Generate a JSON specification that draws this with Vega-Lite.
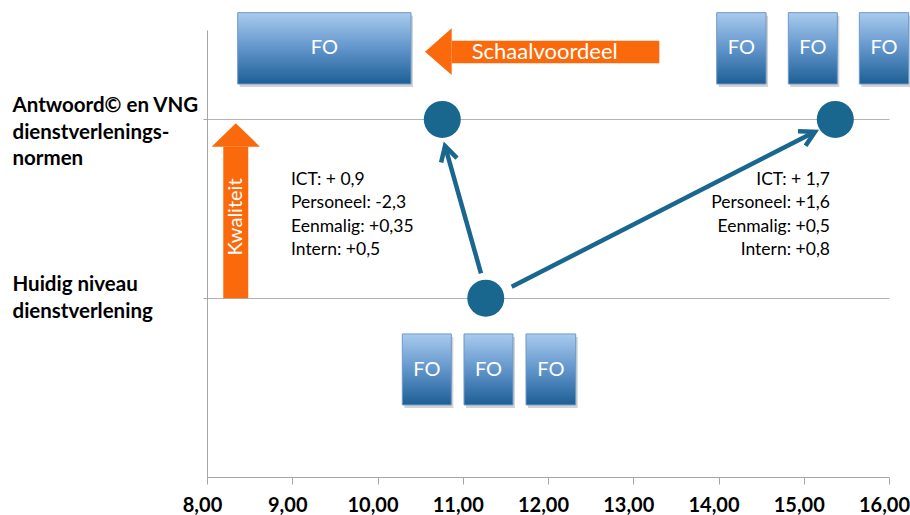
{
  "$schema": "https://vega.github.io/schema/vega-lite/v6.json",
  "width": 682,
  "height": 447,
  "autosize": {"type": "none"},
  "padding": {"left": 207, "top": 30, "right": 21, "bottom": 38},
  "background": "white",
  "config": {"view": {"stroke": null}, "font": "Lato"},
  "datasets": {
    "nodes": [
      {"x": 10.76, "y": 2},
      {"x": 11.27, "y": 1},
      {"x": 15.37, "y": 2}
    ],
    "arrows": [
      {"id": "a1", "x": 11.214, "y": 1.139, "x2": 10.792, "y2": 1.851},
      {"id": "a2", "x": 11.574, "y": 1.064, "x2": 15.132, "y2": 1.931}
    ],
    "boxes": [
      {"x": 8.36, "x2": 10.393, "y": 2.597, "y2": 2.198, "xm": 9.377, "ym": 2.398, "label": "FO"},
      {"x": 13.979, "x2": 14.558, "y": 2.597, "y2": 2.198, "xm": 14.268, "ym": 2.398, "label": "FO"},
      {"x": 14.819, "x2": 15.394, "y": 2.597, "y2": 2.198, "xm": 15.107, "ym": 2.398, "label": "FO"},
      {"x": 15.652, "x2": 16.231, "y": 2.597, "y2": 2.198, "xm": 15.941, "ym": 2.398, "label": "FO"},
      {"x": 10.291, "x2": 10.866, "y": 0.8, "y2": 0.403, "xm": 10.579, "ym": 0.601, "label": "FO"},
      {"x": 11.015, "x2": 11.589, "y": 0.8, "y2": 0.403, "xm": 11.302, "ym": 0.601, "label": "FO"},
      {"x": 11.742, "x2": 12.325, "y": 0.8, "y2": 0.403, "xm": 12.034, "ym": 0.601, "label": "FO"}
    ],
    "orangeBodies": [
      {"x": 10.87, "x2": 13.306, "y": 2.44, "y2": 2.314},
      {"x": 8.191, "x2": 8.484, "y": 1.847, "y2": 1.0}
    ],
    "leftHead": [{"x": 10.714, "y": 2.379}],
    "upHead": [{"x": 8.338, "y": 1.913}],
    "notesLeft": [
      {"x": 8.985, "y": 1.661, "t": "ICT: + 0,9"},
      {"x": 8.985, "y": 1.531, "t": "Personeel: -2,3"},
      {"x": 8.985, "y": 1.4, "t": "Eenmalig: +0,35"},
      {"x": 8.985, "y": 1.27, "t": "Intern: +0,5"}
    ],
    "notesRight": [
      {"x": 15.308, "y": 1.661, "t": "ICT: + 1,7"},
      {"x": 15.308, "y": 1.531, "t": "Personeel: +1,6"},
      {"x": 15.308, "y": 1.4, "t": "Eenmalig: +0,5"},
      {"x": 15.308, "y": 1.27, "t": "Intern: +0,8"}
    ],
    "schaal": [{"x": 11.105, "y": 2.377, "t": "Schaalvoordeel"}],
    "kwal": [{"x": 8.34, "y": 1.454, "t": "Kwaliteit"}]
  },
  "layer": [
    {
      "data": {"name": "nodes"},
      "mark": {"type": "point", "filled": true, "shape": "circle", "size": 1369, "color": "#19668f", "opacity": 1},
      "encoding": {
        "x": {
          "field": "x", "type": "quantitative",
          "scale": {"domain": [8, 16], "nice": false, "zero": false},
          "axis": {
            "title": null,
            "values": [8, 9, 10, 11, 12, 13, 14, 15, 16],
            "labelExpr": "replace(format(datum.value, '.2f'), '.', ',')",
            "labelFont": "Lato", "labelFontWeight": "bold", "labelFontSize": 20, "labelColor": "black",
            "labelPadding": 11, "labelOffset": -5, "tickSize": 7, "tickColor": "#a6a6a6", "domainColor": "#a6a6a6",
            "grid": false, "labelFlush": false, "labelOverlap": false
          }
        },
        "y": {
          "field": "y", "type": "quantitative",
          "scale": {"domain": [0, 2.5], "nice": false, "zero": false},
          "axis": {
            "title": null,
            "values": [1, 2],
            "grid": true, "gridColor": "#b3b3b3",
            "domainColor": "#a6a6a6", "tickColor": "#a6a6a6", "tickSize": 4,
            "labelAlign": "left", "labelBaseline": "top", "labelOffset": -23.5, "labelPadding": 191,
            "labelLimit": 400, "labelFont": "Lato", "labelFontWeight": "bold", "labelFontSize": 20.5,
            "labelLineHeight": 26.5, "labelColor": "black", "labelOverlap": false,
            "labelExpr": "datum.value == 2 ? ['Antwoord© en VNG', 'dienstverlenings-', 'normen'] : ['Huidig niveau', 'dienstverlening']"
          }
        }
      }
    },
    {
      "data": {"name": "arrows"},
      "mark": {"type": "rule", "color": "#19668f", "strokeWidth": 4.5},
      "encoding": {
        "x": {"field": "x", "type": "quantitative"},
        "y": {"field": "y", "type": "quantitative"},
        "x2": {"field": "x2"},
        "y2": {"field": "y2"}
      }
    },
    {
      "data": {"name": "arrows"},
      "transform": [{"filter": "datum.id == 'a1'"}],
      "mark": {"type": "point", "shape": "M-0.5,0.9L0,0L0.5,0.9", "filled": false, "stroke": "#19668f", "strokeWidth": 4.5, "size": 1089, "angle": -15.8, "opacity": 1},
      "encoding": {
        "x": {"field": "x2", "type": "quantitative"},
        "y": {"field": "y2", "type": "quantitative"}
      }
    },
    {
      "data": {"name": "arrows"},
      "transform": [{"filter": "datum.id == 'a2'"}],
      "mark": {"type": "point", "shape": "M-0.5,0.9L0,0L0.5,0.9", "filled": false, "stroke": "#19668f", "strokeWidth": 4.5, "size": 1089, "angle": 62.9, "opacity": 1},
      "encoding": {
        "x": {"field": "x2", "type": "quantitative"},
        "y": {"field": "y2", "type": "quantitative"}
      }
    },
    {
      "data": {"name": "boxes"},
      "mark": {"type": "rect", "fill": "#808080", "opacity": 0.35, "xOffset": 2, "x2Offset": 2, "yOffset": 3, "y2Offset": 3},
      "encoding": {
        "x": {"field": "x", "type": "quantitative"},
        "x2": {"field": "x2"},
        "y": {"field": "y", "type": "quantitative"},
        "y2": {"field": "y2"}
      }
    },
    {
      "data": {"name": "boxes"},
      "mark": {
        "type": "rect",
        "fill": {"gradient": "linear", "x1": 0, "y1": 0, "x2": 0, "y2": 1,
          "stops": [{"offset": 0, "color": "#a9cbee"}, {"offset": 0.5, "color": "#6195cb"}, {"offset": 1, "color": "#1d5f95"}]},
        "stroke": "#6d98c7", "strokeWidth": 1
      },
      "encoding": {
        "x": {"field": "x", "type": "quantitative"},
        "x2": {"field": "x2"},
        "y": {"field": "y", "type": "quantitative"},
        "y2": {"field": "y2"}
      }
    },
    {
      "data": {"name": "boxes"},
      "mark": {"type": "text", "color": "white", "font": "Lato", "fontSize": 20, "align": "center", "baseline": "middle"},
      "encoding": {
        "x": {"field": "xm", "type": "quantitative"},
        "y": {"field": "ym", "type": "quantitative"},
        "text": {"field": "label"}
      }
    },
    {
      "data": {"name": "orangeBodies"},
      "mark": {"type": "rect", "color": "#fa6a0c"},
      "encoding": {
        "x": {"field": "x", "type": "quantitative"},
        "x2": {"field": "x2"},
        "y": {"field": "y", "type": "quantitative"},
        "y2": {"field": "y2"}
      }
    },
    {
      "data": {"name": "leftHead"},
      "mark": {"type": "point", "shape": "M-0.571,0L0.571,-1L0.571,1Z", "filled": true, "color": "#fa6a0c", "size": 2181, "opacity": 1},
      "encoding": {
        "x": {"field": "x", "type": "quantitative"},
        "y": {"field": "y", "type": "quantitative"}
      }
    },
    {
      "data": {"name": "upHead"},
      "mark": {"type": "point", "shape": "M0,-0.4845L1,0.4845L-1,0.4845Z", "filled": true, "color": "#fa6a0c", "size": 2333, "opacity": 1},
      "encoding": {
        "x": {"field": "x", "type": "quantitative"},
        "y": {"field": "y", "type": "quantitative"}
      }
    },
    {
      "data": {"name": "schaal"},
      "mark": {"type": "text", "color": "white", "font": "Lato", "fontSize": 22, "align": "left", "baseline": "middle"},
      "encoding": {
        "x": {"field": "x", "type": "quantitative"},
        "y": {"field": "y", "type": "quantitative"},
        "text": {"field": "t"}
      }
    },
    {
      "data": {"name": "kwal"},
      "mark": {"type": "text", "color": "white", "font": "Lato", "fontSize": 20, "align": "center", "baseline": "middle", "angle": 270},
      "encoding": {
        "x": {"field": "x", "type": "quantitative"},
        "y": {"field": "y", "type": "quantitative"},
        "text": {"field": "t"}
      }
    },
    {
      "data": {"name": "notesLeft"},
      "mark": {"type": "text", "color": "black", "font": "Lato", "fontSize": 17.5, "align": "left", "baseline": "middle"},
      "encoding": {
        "x": {"field": "x", "type": "quantitative"},
        "y": {"field": "y", "type": "quantitative"},
        "text": {"field": "t"}
      }
    },
    {
      "data": {"name": "notesRight"},
      "mark": {"type": "text", "color": "black", "font": "Lato", "fontSize": 17.5, "align": "right", "baseline": "middle"},
      "encoding": {
        "x": {"field": "x", "type": "quantitative"},
        "y": {"field": "y", "type": "quantitative"},
        "text": {"field": "t"}
      }
    }
  ]
}
